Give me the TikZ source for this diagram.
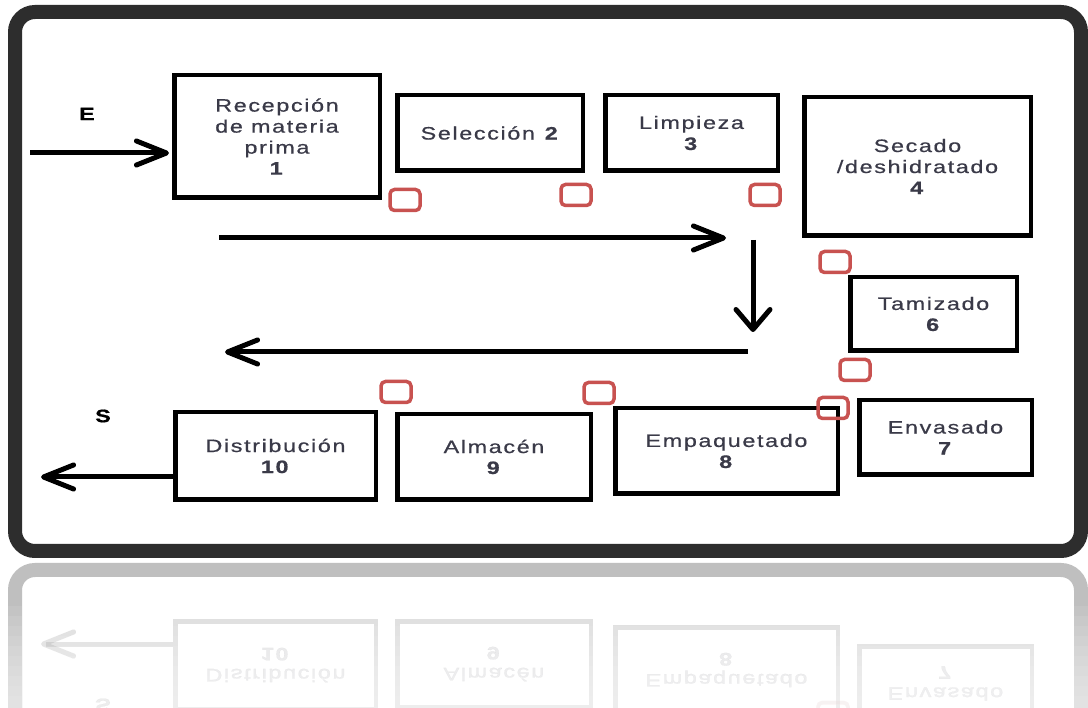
\documentclass[tikz,border=0pt]{standalone}
\usepackage{fontspec}
\setmainfont{Liberation Sans}
\newfontfamily\lblfont[FakeStretch=1.3,LetterSpace=9,FakeBold=0.6]{Liberation Sans}
\usetikzlibrary{arrows.meta}
\definecolor{frm}{RGB}{45,45,45}
\definecolor{sqred}{RGB}{200,82,80}
\definecolor{txt}{RGB}{58,58,72}
\tikzset{
  pbox/.style={draw=black, line width=4.5pt, inner sep=1pt, align=center,
    font=\lblfont\fontsize{18}{21}\selectfont, text=txt},
  rsq/.style={draw=sqred, line width=3.5pt, rounded corners=4.5pt,
    minimum width=30pt, minimum height=21pt, inner sep=0pt},
  flow/.style={line width=5pt, -{Straight Barb[length=30pt,width=24pt,round]}},
  flowdown/.style={line width=5pt, -{Straight Barb[length=20pt,width=34pt,round]}},
  lbl/.style={font=\lblfont\fontsize{18}{21}\selectfont\bfseries, text=black, inner sep=0pt},
  frame/.style={draw=frm, line width=14pt, rounded corners=20pt}
}
\newcommand\pbx[6]{\node[pbox, minimum width={#4-#2-4.5}, minimum height={#5-#3-4.5}]
  (#1) at ({(#2+#4)/2},{(#3+#5)/2}) {#6};}
\newcommand\diagramcontent{%
  \pbx{b1}{172}{73}{382}{200}{Recepción\\de materia\\prima\\\textbf{1}}
  \pbx{b2}{395}{93}{585}{173}{Selección \textbf{2}}
  \pbx{b3}{603}{93}{780}{173}{Limpieza\\\textbf{3}}
  \pbx{b4}{802}{95}{1033}{238}{Secado\\/deshidratado\\\textbf{4}}
  \pbx{b6}{848}{275}{1019}{353}{Tamizado\\\textbf{6}}
  \pbx{b7}{857}{398}{1034}{477}{Envasado\\\textbf{7}}
  \pbx{b8}{613}{406}{840}{496}{Empaquetado\\\textbf{8}}
  \pbx{b9}{395}{412}{593}{502}{Almacén\\\textbf{9}}
  \pbx{b10}{173}{410}{378}{502}{Distribución\\\textbf{10}}
  \node[lbl] (lE) at (87,114) {E};
  \node[lbl] (lS) at (103,416) {S};
  \node[rsq] (s1) at (405,200) {};
  \node[rsq] (s2) at (576,195) {};
  \node[rsq] (s3) at (765,195) {};
  \node[rsq] (s4) at (835,262) {};
  \node[rsq] (s5) at (855,370) {};
  \node[rsq] (s6) at (833,408) {};
  \node[rsq] (s7) at (599,393) {};
  \node[rsq] (s8) at (396,392) {};
  \coordinate (inA) at (30,153);
  \coordinate (outB) at (41,477);
  \coordinate (r1) at (219,238);
  \coordinate (r2) at (726,238);
  \coordinate (d1) at (753,240);
  \coordinate (d2) at (753,332);
  \coordinate (l1) at (748,352);
  \coordinate (l2) at (225,352);
  \draw[flow] (inA) -- ([xshift=-3pt]inA -| b1.west);
  \draw[flow] (b10.west |- outB) -- (outB);
  \draw[flow] (r1) -- (r2);
  \draw[flowdown] (d1) -- (d2);
  \draw[flow] (l1) -- (l2);
}
\begin{document}
\begin{tikzpicture}[x=1pt,y=-1pt]
  \fill[white] (0,0) rectangle (1088,708);
  \useasboundingbox (0,0) rectangle (1088,708);
  % reflection
  \begin{scope}
    \clip (0,561) rectangle (1088,708);
    \begin{scope}[yshift=-1121pt, yscale=-1, transform shape, name prefix=r-]
      \draw[frame, draw opacity=.3] (15,12) rectangle (1081,551);
      \begin{scope}[opacity=.14]
        \diagramcontent
      \end{scope}
    \end{scope}
    \foreach \k in {0,...,9} {
      \fill[white, opacity=.09] (0,{606+\k*10}) rectangle (1088,708);
    }
  \end{scope}
  % main frame and diagram
  \draw[frame] (15,12) rectangle (1081,551);
  \diagramcontent
\end{tikzpicture}
\end{document}
